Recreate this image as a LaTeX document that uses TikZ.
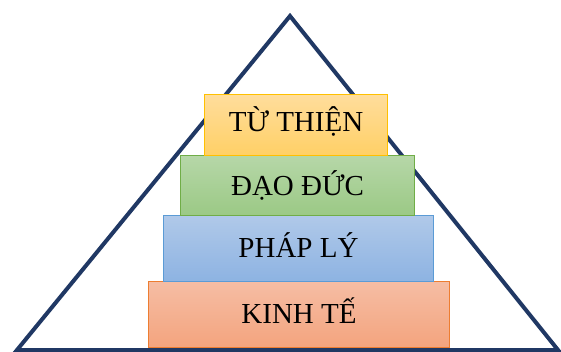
\documentclass[tikz,border=0pt]{standalone}
\usepackage{fontspec}
\setmainfont{Liberation Serif}
\definecolor{navy}{HTML}{203864}
\definecolor{yfill1}{HTML}{FFDD9C}
\definecolor{yfill2}{HTML}{FFD066}
\definecolor{ybord}{HTML}{FFC000}
\definecolor{gfill1}{HTML}{B6D7A8}
\definecolor{gfill2}{HTML}{9BC985}
\definecolor{gbord}{HTML}{70AD47}
\definecolor{bfill1}{HTML}{B0C9E9}
\definecolor{bfill2}{HTML}{8DB3E2}
\definecolor{bbord}{HTML}{5B9BD5}
\definecolor{ofill1}{HTML}{F5BDA4}
\definecolor{ofill2}{HTML}{F4A47E}
\definecolor{obord}{HTML}{ED7D31}
\begin{document}
\begin{tikzpicture}[x=1pt,y=-1pt,
  tier/.style={rectangle, inner sep=0pt, line width=1pt, anchor=north west},
  lbl/.style={font=\fontsize{29}{32}\selectfont, text height=19pt, text depth=0pt, inner sep=0pt}]
\useasboundingbox (0,0) rectangle (561,352);
\coordinate (apex) at (290,16);
\coordinate (bl) at (17,350);
\coordinate (br) at (558,350);
\draw[navy, line width=4pt, line join=miter] (apex) -- (br) -- (bl) -- cycle;
% boxes
\node[tier, draw=obord, top color=ofill1, bottom color=ofill2, minimum width=301pt, minimum height=66pt] (kt) at (148,281) {};
\node[tier, draw=bbord, top color=bfill1, bottom color=bfill2, minimum width=270pt, minimum height=66pt] (pl) at (163,215) {};
\node[tier, draw=gbord, top color=gfill1, bottom color=gfill2, minimum width=234pt, minimum height=60pt] (dd) at (180,155) {};
\node[tier, draw=ybord, top color=yfill1, bottom color=yfill2, minimum width=183pt, minimum height=61pt] (tt) at (204,94) {};
% labels
\node[lbl] (tkt) at ([yshift=1pt]kt.center) {KINH TẾ};
\node[lbl] (tpl) at ([yshift=1pt]pl.center) {PHÁP LÝ};
\node[lbl] (tdd) at ([yshift=-1pt]dd.center) {ĐẠO ĐỨC};
\node[lbl] (ttt) at ([yshift=3pt]tt.center) {TỪ THIỆN};
\end{tikzpicture}
\end{document}
